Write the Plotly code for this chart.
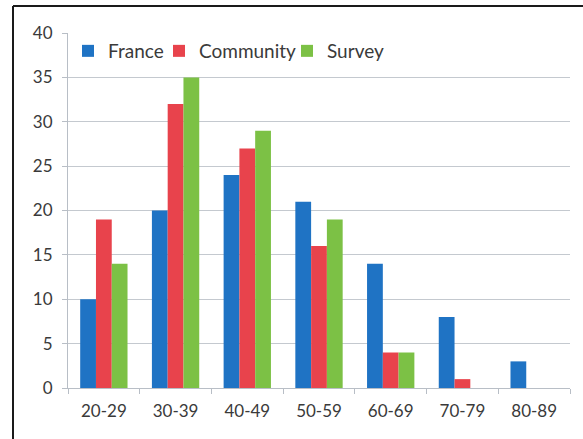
import plotly.graph_objects as go

categories = ["20-29", "30-39", "40-49", "50-59", "60-69", "70-79", "80-89"]
france = [10, 20, 24, 21, 14, 8, 3]
community = [19, 32, 27, 16, 4, 1, 0]
survey = [14, 35, 29, 19, 4, 0, 0]

colors = {"France": "#1f73c4", "Community": "#e8434c", "Survey": "#7cc145"}

W, H = 583, 439
L, R, T, B = 68, 13, 33, 51
pw, ph = W - L - R, H - T - B

def px(x):
    return (x - L) / pw

def py(y):
    return (H - B - y) / ph

fig = go.Figure()
legend_ids = ["legend", "legend2", "legend3"]
for lid, (name, vals) in zip(legend_ids, [("France", france), ("Community", community), ("Survey", survey)]):
    fig.add_trace(go.Bar(x=categories, y=vals, name=name, marker_color=colors[name],
                         marker_line_width=0, legend=lid, showlegend=True))

leg_common = dict(orientation="h", yanchor="middle", xanchor="left",
                  bgcolor="rgba(0,0,0,0)", font=dict(size=19, color="#3a3a3a"),
                  itemwidth=30)

fig.update_layout(
    width=W, height=H,
    margin=dict(l=L, r=R, t=T, b=B),
    paper_bgcolor="white", plot_bgcolor="white",
    showlegend=True,
    barmode="group", bargap=0.34, bargroupgap=0,
    font=dict(family="Lato, sans-serif", size=17, color="#3a3a3a"),
    legend=dict(x=0, y=py(51), **leg_common),
    legend2=dict(x=px(159), y=py(51), **leg_common),
    legend3=dict(x=px(287), y=py(51), **leg_common),
    xaxis=dict(showgrid=False, showline=True, linecolor="#b8bec6", linewidth=1,
               ticks="outside", tickson="boundaries", ticklen=5, tickcolor="#b8bec6",
               ticklabelstandoff=8,
               tickfont=dict(size=17, color="#3a3a3a")),
    yaxis=dict(range=[0, 40], dtick=5, showgrid=True, gridcolor="#c4c9cf", gridwidth=1,
               showline=True, linecolor="#b8bec6", linewidth=1, ticks="outside",
               ticklen=5, tickcolor="#b8bec6", zeroline=False, ticklabelstandoff=6,
               tickfont=dict(size=17, color="#3a3a3a")),
    shapes=[
        dict(type="line", xref="paper", yref="paper", x0=px(13), x1=px(583), y0=py(6), y1=py(6),
             line=dict(color="#1a1a1a", width=2)),
        dict(type="line", xref="paper", yref="paper", x0=px(13), x1=px(13), y0=py(6), y1=py(439),
             line=dict(color="#1a1a1a", width=2)),
    ],
)

fig.write_html("out.html")
